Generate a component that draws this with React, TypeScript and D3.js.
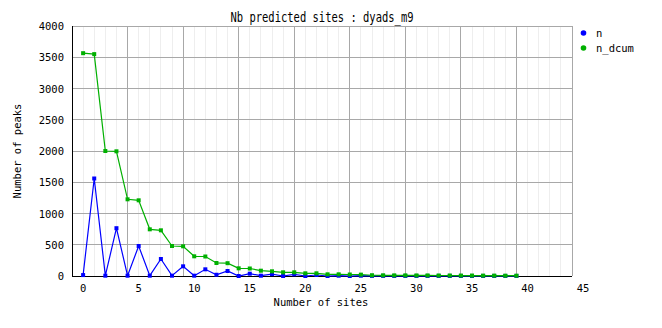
import React from "react";
import * as d3 from "d3";

const title = "Nb predicted sites : dyads_m9";
const xLabel = "Number of sites";
const yLabel = "Number of peaks";
const seriesNames = ["n", "n_dcum"];
const seriesColors = ["#0000ff", "#00b000"];
const sites = d3.range(0, 40);
const nValues = [
  15, 1560, 5, 765, 5, 480, 5, 272, 5, 155, 5, 107, 20, 80, 0, 37, 5, 30, 0, 27,
  0, 16, 0, 5, 0, 5, 2, 2, 1, 1, 1, 1, 1, 1, 1, 1, 1, 1, 1, 1,
];
const nDcumValues = [
  3565, 3550, 2000, 1995, 1227, 1211, 747, 731, 480, 475, 315, 312, 208, 205, 123, 120, 85, 75, 59, 59,
  43, 43, 27, 27, 24, 22, 12, 11, 10, 10, 9, 9, 8, 8, 7, 7, 6, 6, 5, 5,
];
const yTicks = d3.range(0, 4001, 500);
const xTickLabels = d3.range(0, 46, 5);
const xMajorGrid = d3.range(-1, 45, 5);
const xMinorGrid = d3.range(-1, 45, 1);

const W = 662, H = 328;
const L = 72, R = 572, T = 26, B = 276;
const font = "'DejaVu Sans Mono', 'Liberation Mono', monospace";

export default function App() {
  const x = d3.scaleLinear().domain([-1, 44]).range([L, R]);
  const y = d3.scaleLinear().domain([0, 4000]).range([B, T]);
  const line = d3.line<number>().x((_, i) => x(sites[i])).y((d) => y(d));
  const series = [nValues, nDcumValues];
  return (
    <svg width={W} height={H} style={{ position: "absolute", left: 0, top: 0, background: "#fff" }}>
      <rect x={0} y={0} width={W} height={H} fill="#fff" />
      {xMinorGrid.map((v) => (
        <line key={"mn" + v} x1={x(v)} x2={x(v)} y1={T} y2={B} stroke="#eeeeee" strokeWidth={1} shapeRendering="crispEdges" />
      ))}
      {yTicks.map((v) => (
        <line key={"hy" + v} x1={L} x2={R} y1={y(v)} y2={y(v)} stroke="#a8a8a8" strokeWidth={1} shapeRendering="crispEdges" />
      ))}
      {xMajorGrid.map((v) => (
        <line key={"mj" + v} x1={x(v)} x2={x(v)} y1={T} y2={B} stroke="#a8a8a8" strokeWidth={1} shapeRendering="crispEdges" />
      ))}
      <line x1={R} x2={R} y1={T} y2={B} stroke="#a8a8a8" shapeRendering="crispEdges" />
      <line x1={L} x2={L} y1={T} y2={B} stroke="#000" shapeRendering="crispEdges" />
      <line x1={L} x2={R} y1={B} y2={B} stroke="#000" shapeRendering="crispEdges" />
      {series.map((s, k) => (
        <g key={"s" + k}>
          <path d={line(s) || ""} fill="none" stroke={seriesColors[k]} strokeWidth={1.2} />
          {s.map((v, i) => (
            <rect key={i} x={x(sites[i]) - 2} y={y(v) - 2} width={4} height={4} fill={seriesColors[k]} />
          ))}
        </g>
      ))}
      {yTicks.map((v) => (
        <text key={"yt" + v} x={64} y={y(v) + 4} textAnchor="end" fontFamily={font} fontSize={10.5} fill="#000">
          {v}
        </text>
      ))}
      {xTickLabels.map((v) => (
        <text key={"xt" + v} x={x(v)} y={292} textAnchor="middle" fontFamily={font} fontSize={10.5} fill="#000">
          {v}
        </text>
      ))}
      <text x={322} y={22} textAnchor="middle" fontFamily={font} fontSize={13.5} textLength={183} lengthAdjust="spacingAndGlyphs" fill="#000">
        {title}
      </text>
      <text x={321} y={306} textAnchor="middle" fontFamily={font} fontSize={10.5} fill="#000">
        {xLabel}
      </text>
      <text transform={`translate(21,151) rotate(-90)`} textAnchor="middle" fontFamily={font} fontSize={10.5} fill="#000">
        {yLabel}
      </text>
      {seriesNames.map((nm, k) => (
        <g key={"lg" + k}>
          <circle cx={583.5} cy={33 + k * 15} r={2.8} fill={seriesColors[k]} />
          <text x={596} y={37 + k * 15} fontFamily={font} fontSize={10.5} fill="#000">
            {nm}
          </text>
        </g>
      ))}
    </svg>
  );
}
